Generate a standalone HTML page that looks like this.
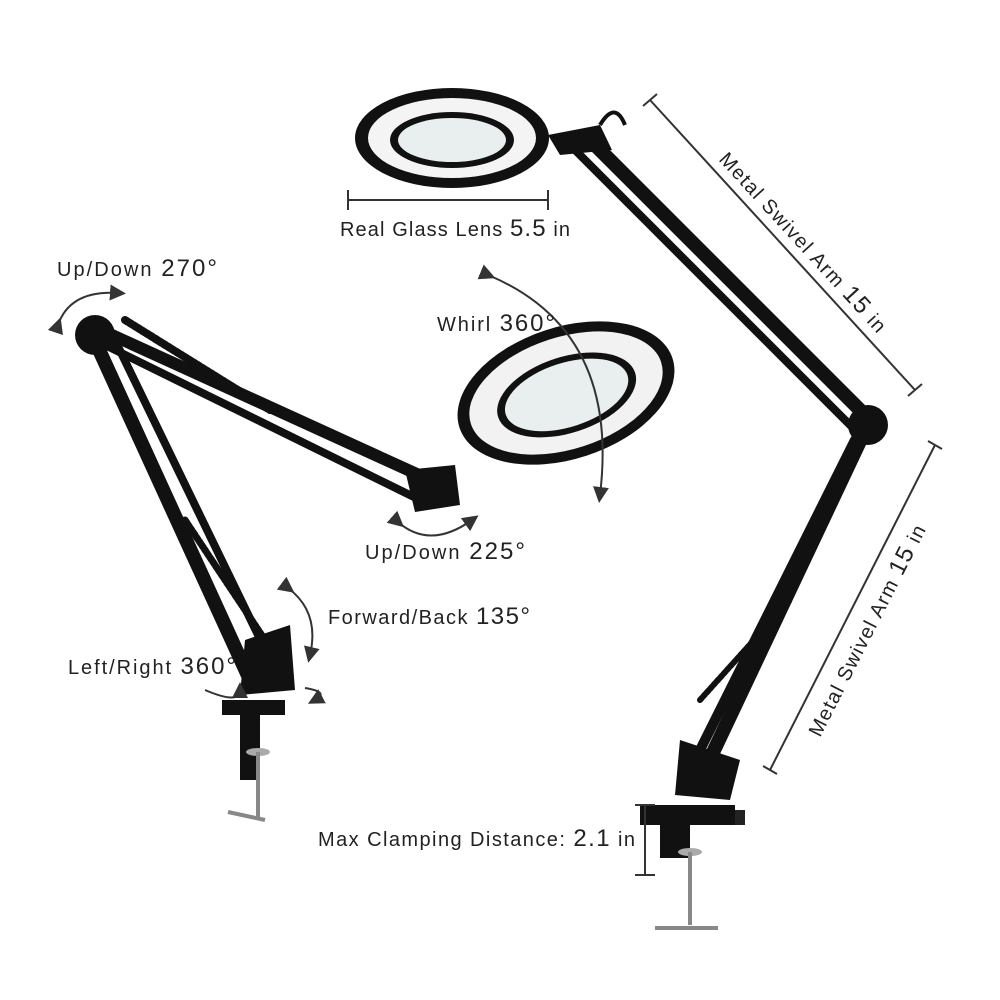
<!DOCTYPE html>
<html><head><meta charset="utf-8"><style>
html,body{margin:0;padding:0;background:#fff}
svg{display:block}
text{font-family:"Liberation Sans",sans-serif;fill:#222}
</style></head><body>
<svg width="1000" height="1000" viewBox="0 0 1000 1000" xmlns="http://www.w3.org/2000/svg">
<defs>
<marker id="ah" markerWidth="8" markerHeight="8" refX="4" refY="4" orient="auto"><path d="M0,0 L8,4 L0,8 z" fill="#333"/></marker>
</defs>
<ellipse cx="452" cy="138" rx="97" ry="50" fill="#111"/>
<ellipse cx="452" cy="138" rx="84" ry="40" fill="#f4f4f4"/>
<ellipse cx="452" cy="140" rx="62" ry="28" fill="#111"/>
<ellipse cx="452" cy="140" rx="54" ry="22" fill="#e9eeee"/>
<path d="M548,135 L600,125 L612,150 L560,155z" fill="#111"/>
<path d="M600,125 Q615,100 625,125" stroke="#111" stroke-width="4" fill="none"/>
<line x1="348" y1="200" x2="548" y2="200" stroke="#333" stroke-width="2"/>
<line x1="348" y1="190" x2="348" y2="210" stroke="#333" stroke-width="2"/>
<line x1="548" y1="190" x2="548" y2="210" stroke="#333" stroke-width="2"/>
<text x="340" y="236" font-size="20" textLength="230" lengthAdjust="spacing">Real Glass Lens <tspan font-size="24">5.5</tspan> in</text>
<g stroke="#111" stroke-linecap="round">
<line x1="590" y1="140" x2="870" y2="420" stroke-width="14"/>
<line x1="575" y1="150" x2="855" y2="430" stroke-width="8"/>
<line x1="870" y1="420" x2="700" y2="780" stroke-width="14"/>
<line x1="855" y1="440" x2="690" y2="770" stroke-width="10"/>
<line x1="700" y1="700" x2="790" y2="600" stroke-width="6" stroke-dasharray="3 2"/>
</g>
<circle cx="868" cy="425" r="20" fill="#111"/>
<path d="M680,740 L740,760 L730,800 L675,795z" fill="#111"/>
<path d="M640,805 L735,805 L735,825 L690,825 L690,858 L660,858 L660,825 L640,825z" fill="#111"/>
<rect x="735" y="810" width="10" height="15" fill="#222"/>
<ellipse cx="690" cy="852" rx="12" ry="4" fill="#aaa"/>
<line x1="690" y1="852" x2="690" y2="925" stroke="#888" stroke-width="4"/>
<line x1="655" y1="928" x2="718" y2="928" stroke="#888" stroke-width="4"/>
<line x1="650" y1="100" x2="915" y2="390" stroke="#333" stroke-width="2"/>
<line x1="643" y1="106" x2="657" y2="94" stroke="#333" stroke-width="2"/>
<line x1="908" y1="396" x2="922" y2="384" stroke="#333" stroke-width="2"/>
<text font-size="20" transform="translate(718,160) rotate(47.5)" textLength="236" lengthAdjust="spacing">Metal Swivel Arm <tspan font-size="24">15</tspan> in</text>
<line x1="935" y1="445" x2="770" y2="770" stroke="#333" stroke-width="2"/>
<line x1="928" y1="441" x2="942" y2="449" stroke="#333" stroke-width="2"/>
<line x1="763" y1="766" x2="777" y2="774" stroke="#333" stroke-width="2"/>
<text font-size="20" transform="translate(820,738) rotate(-63)" textLength="234" lengthAdjust="spacing">Metal Swivel Arm <tspan font-size="24">15</tspan> in</text>
<line x1="645" y1="805" x2="645" y2="875" stroke="#333" stroke-width="2"/>
<line x1="635" y1="805" x2="655" y2="805" stroke="#333" stroke-width="2"/>
<line x1="635" y1="875" x2="655" y2="875" stroke="#333" stroke-width="2"/>
<text x="318" y="846" font-size="20" textLength="317" lengthAdjust="spacing">Max Clamping Distance: <tspan font-size="24">2.1</tspan> in</text>
<g stroke="#111" stroke-linecap="round">
<line x1="90" y1="325" x2="430" y2="480" stroke-width="12"/>
<line x1="105" y1="345" x2="420" y2="500" stroke-width="8"/>
<line x1="125" y1="320" x2="270" y2="410" stroke-width="8" stroke-dasharray="3 2"/>
<line x1="90" y1="330" x2="250" y2="680" stroke-width="14"/>
<line x1="110" y1="330" x2="275" y2="670" stroke-width="8"/>
<line x1="185" y1="520" x2="265" y2="640" stroke-width="7" stroke-dasharray="3 2"/>
</g>
<circle cx="95" cy="335" r="20" fill="#111"/>
<path d="M405,470 L455,465 L460,505 L415,512z" fill="#111"/>
<path d="M245,640 L290,625 L295,690 L240,695z" fill="#111"/>
<g transform="rotate(-18 566 393)">
<ellipse cx="566" cy="393" rx="112" ry="66" fill="#111"/>
<ellipse cx="566" cy="393" rx="100" ry="56" fill="#f2f2f2"/>
<ellipse cx="566" cy="395" rx="72" ry="38" fill="#111"/>
<ellipse cx="566" cy="395" rx="64" ry="32" fill="#e9eeee"/>
</g>
<path d="M222,700 L285,700 L285,715 L260,715 L260,780 L240,780 L240,715 L222,715z" fill="#111"/>
<ellipse cx="258" cy="752" rx="12" ry="4" fill="#aaa"/>
<line x1="258" y1="752" x2="258" y2="818" stroke="#888" stroke-width="4"/>
<line x1="228" y1="812" x2="265" y2="820" stroke="#888" stroke-width="4"/>
<g fill="none" stroke="#333" stroke-width="2">
<path d="M58,325 Q70,290 118,293" marker-start="url(#ah)" marker-end="url(#ah)"/>
<path d="M488,275 Q620,330 600,495" marker-start="url(#ah)" marker-end="url(#ah)"/>
<path d="M398,522 Q430,550 472,520" marker-start="url(#ah)" marker-end="url(#ah)"/>
<path d="M288,588 Q320,612 310,655" marker-start="url(#ah)" marker-end="url(#ah)"/>
<path d="M205,690 Q240,705 240,690" marker-end="url(#ah)"/>
<path d="M305,688 Q330,692 315,700" marker-end="url(#ah)"/>
</g>
<text x="57" y="276" font-size="20" textLength="160" lengthAdjust="spacing">Up/Down <tspan font-size="24">270°</tspan></text>
<text x="437" y="331" font-size="20" textLength="118" lengthAdjust="spacing">Whirl <tspan font-size="24">360°</tspan></text>
<text x="365" y="559" font-size="20" textLength="160" lengthAdjust="spacing">Up/Down <tspan font-size="24">225°</tspan></text>
<text x="328" y="624" font-size="20" textLength="202" lengthAdjust="spacing">Forward/Back <tspan font-size="24">135°</tspan></text>
<text x="68" y="674" font-size="20" textLength="168" lengthAdjust="spacing">Left/Right <tspan font-size="24">360°</tspan></text>
</svg>
</body></html>
